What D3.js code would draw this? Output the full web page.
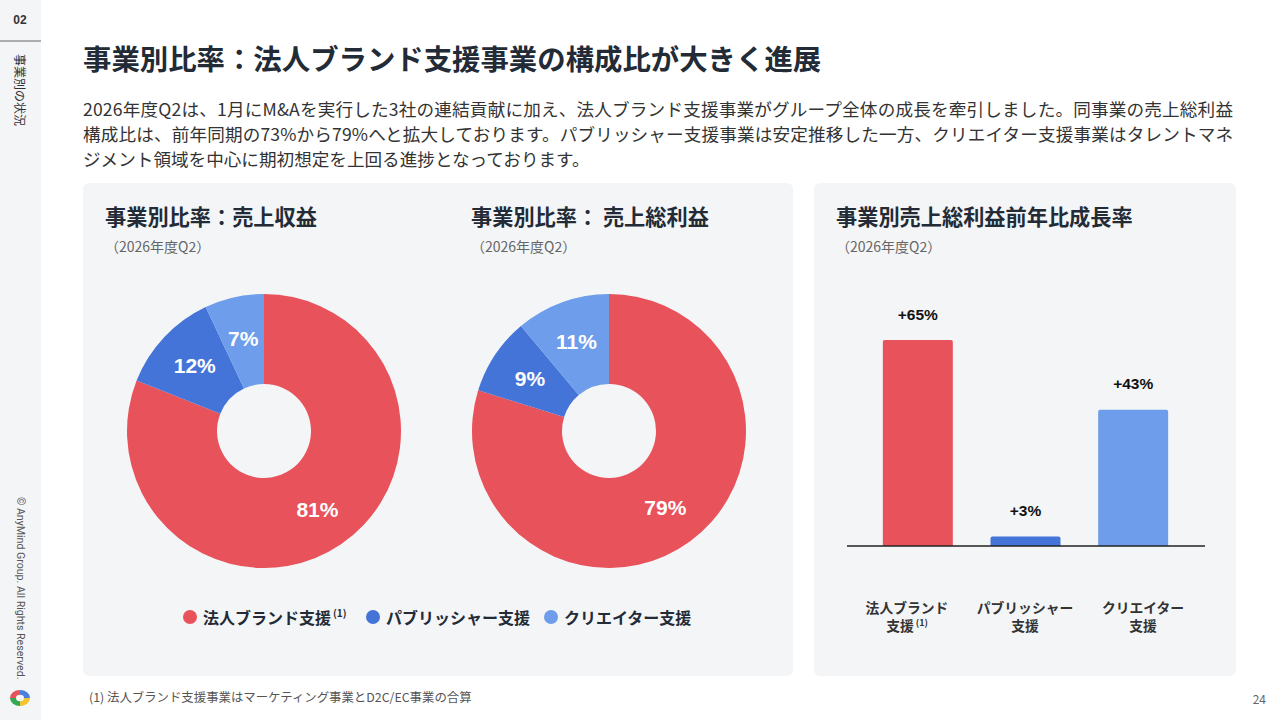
<!DOCTYPE html>
<html>
<head>
<meta charset="utf-8">
<script src="https://cdn.jsdelivr.net/npm/d3@7"></script>
<style>
  html, body { margin: 0; padding: 0; background: #fff; }
  svg { display: block; }
  .jp { font-family: "Noto Sans CJK JP", "Noto Sans", sans-serif; }
  .num { font-family: "Liberation Sans", Arial, sans-serif; font-weight: bold; }
</style>
</head>
<body>
<svg id="slide" width="1280" height="720"></svg>
<script>
// data
var segments = ["法人ブランド支援", "パブリッシャー支援", "クリエイター支援"];
var revenueShare = [81, 12, 7];
var grossProfitShare = [79, 9, 11];
var growthRate = [65, 3, 43];
var barLabels = [["法人ブランド", "支援"], ["パブリッシャー", "支援"], ["クリエイター", "支援"]];
var colors = ["#e8525b", "#4474d8", "#6d9deb"];

var titleText = "事業別比率：法人ブランド支援事業の構成比が大きく進展";
var bodyLines = [
    "2026年度Q2は、1月にM&Aを実行した3社の連結貢献に加え、法人ブランド支援事業がグループ全体の成長を牽引しました。同事業の売上総利益",
    "構成比は、前年同期の73%から79%へと拡大しております。パブリッシャー支援事業は安定推移した一方、クリエイター支援事業はタレントマネ",
    "ジメント領域を中心に期初想定を上回る進捗となっております。"
];

var svg = d3.select("#slide");
var panelBg = "#f4f5f7";
var dark = "#222b36";

// sidebar
svg.append("rect").attr("x", 0).attr("y", 0).attr("width", 41).attr("height", 720).attr("fill", panelBg);
svg.append("text").attr("class", "num").attr("x", 20).attr("y", 20)
    .attr("text-anchor", "middle").attr("dominant-baseline", "central")
    .attr("font-size", 12).attr("fill", "#333").text("02");
svg.append("line").attr("x1", 0).attr("x2", 41).attr("y1", 41).attr("y2", 41)
    .attr("stroke", "#666").attr("stroke-width", 1);
svg.append("text").attr("class", "jp")
    .attr("transform", "translate(20,54) rotate(90)")
    .attr("dominant-baseline", "central").attr("font-size", 12).attr("fill", "#333")
    .text("事業別の状況");
svg.append("text")
    .attr("transform", "translate(20,497) rotate(90)")
    .attr("font-family", "Roboto, 'Liberation Sans', sans-serif")
    .attr("dominant-baseline", "central").attr("font-size", 10.6).attr("fill", "#555")
    .text("© AnyMind Group. All Rights Reserved.");

// logo
var logoArc = d3.arc().innerRadius(4).outerRadius(10);
var logoColors = ["#e8525b", "#4a7fe0", "#f4c430", "#34a853"];
var logo = svg.append("g").attr("transform", "translate(20,698) scale(1,0.8)");
logo.selectAll("path")
    .data(d3.pie().sort(null).startAngle(-Math.PI / 2)([1, 1, 1, 1]))
    .enter().append("path")
    .attr("d", logoArc)
    .attr("fill", function(d, i) { return logoColors[i]; });

// heading
svg.append("text").attr("class", "jp").attr("x", 83).attr("y", 57)
    .attr("dominant-baseline", "central").attr("font-size", 28.4).attr("font-weight", "bold")
    .attr("fill", dark).text(titleText);

svg.selectAll(".body")
    .data(bodyLines)
    .enter().append("text")
    .attr("class", "jp body")
    .attr("x", 83)
    .attr("y", function(d, i) { return 108 + i * 25; })
    .attr("dominant-baseline", "central")
    .attr("font-size", 17.6)
    .attr("fill", "#333")
    .attr("textLength", function(d, i) { return i < 2 ? 1150 : null; })
    .attr("lengthAdjust", "spacing")
    .text(function(d) { return d; });

// panels
svg.append("rect").attr("x", 83).attr("y", 183).attr("width", 710).attr("height", 493)
    .attr("rx", 6).attr("fill", panelBg);
svg.append("rect").attr("x", 814).attr("y", 183).attr("width", 422).attr("height", 493)
    .attr("rx", 6).attr("fill", panelBg);

function panelTitle(x, title) {
    svg.append("text").attr("class", "jp").attr("x", x).attr("y", 215)
        .attr("dominant-baseline", "central").attr("font-size", 21.2).attr("font-weight", "bold")
        .attr("fill", dark).text(title);
    svg.append("text").attr("class", "jp").attr("x", x).attr("y", 246)
        .attr("dominant-baseline", "central").attr("font-size", 14)
        .attr("fill", "#666").text("（2026年度Q2）");
}
panelTitle(105, "事業別比率：売上収益");
panelTitle(471, "事業別比率： 売上総利益");
panelTitle(836, "事業別売上総利益前年比成長率");

// donuts
var pie = d3.pie().sort(null);
var arc = d3.arc().innerRadius(47).outerRadius(137);
var labelArc = d3.arc().innerRadius(95).outerRadius(95);

function drawDonut(cx, cy, values) {
    var g = svg.append("g").attr("transform", "translate(" + cx + "," + cy + ")");
    var arcs = pie(values);
    g.selectAll("path")
        .data(arcs)
        .enter().append("path")
        .attr("d", arc)
        .attr("fill", function(d, i) { return colors[i]; });
    g.selectAll("text")
        .data(arcs)
        .enter().append("text")
        .attr("class", "num")
        .attr("transform", function(d) { return "translate(" + labelArc.centroid(d) + ")"; })
        .attr("text-anchor", "middle")
        .attr("dominant-baseline", "central")
        .attr("font-size", 21)
        .attr("fill", "#fff")
        .text(function(d) { return d.data + "%"; });
}
drawDonut(264, 431, revenueShare);
drawDonut(609, 431, grossProfitShare);

// legend
var legendX = [190, 373, 551];
var legend = svg.selectAll(".legend")
    .data(segments)
    .enter().append("g")
    .attr("class", "legend")
    .attr("transform", function(d, i) { return "translate(" + legendX[i] + ",617)"; });
legend.append("circle").attr("r", 7).attr("fill", function(d, i) { return colors[i]; });
var legendText = legend.append("text")
    .attr("class", "jp")
    .attr("x", 13)
    .attr("dominant-baseline", "central")
    .attr("font-size", 16)
    .attr("font-weight", "bold")
    .attr("fill", dark)
    .text(function(d) { return d; });
legendText.filter(function(d, i) { return i === 0; })
    .append("tspan").attr("font-size", 10).attr("dx", 2).attr("dy", -5).text("(1)");

// bar chart
var baseY = 546;
var x = d3.scaleBand()
    .domain(segments)
    .range([864, 1187])
    .paddingInner(0.35)
    .paddingOuter(0.175);
var xLabel = d3.scaleBand()
    .domain(segments)
    .range([848, 1202]);
var y = d3.scaleLinear()
    .domain([0, 65])
    .range([baseY, 340]);

var barG = svg.append("g");
barG.selectAll(".bar")
    .data(segments)
    .enter().append("path")
    .attr("class", "bar")
    .attr("fill", function(d, i) { return colors[i]; })
    .attr("d", function(d, i) {
        var x0 = x(d), w = x.bandwidth(), top = y(growthRate[i]), r = 2;
        return "M" + x0 + "," + baseY +
            "V" + (top + r) + "Q" + x0 + "," + top + " " + (x0 + r) + "," + top +
            "H" + (x0 + w - r) + "Q" + (x0 + w) + "," + top + " " + (x0 + w) + "," + (top + r) +
            "V" + baseY + "Z";
    });

barG.selectAll(".val")
    .data(segments)
    .enter().append("text")
    .attr("class", "num val")
    .attr("x", function(d) { return x(d) + x.bandwidth() / 2; })
    .attr("y", function(d, i) { return y(growthRate[i]) - 26; })
    .attr("text-anchor", "middle")
    .attr("dominant-baseline", "central")
    .attr("font-size", 15.5)
    .attr("fill", "#111")
    .text(function(d, i) { return "+" + growthRate[i] + "%"; });

barG.append("line")
    .attr("x1", 847).attr("x2", 1205)
    .attr("y1", baseY).attr("y2", baseY)
    .attr("stroke", "#222").attr("stroke-width", 1.5);

var catLabels = barG.selectAll(".cat")
    .data(segments)
    .enter().append("text")
    .attr("class", "jp cat")
    .attr("text-anchor", "middle")
    .attr("font-size", 13.8)
    .attr("font-weight", "bold")
    .attr("fill", "#333");
catLabels.each(function(d, i) {
    var t = d3.select(this);
    var cx = xLabel(d) + xLabel.bandwidth() / 2;
    t.append("tspan").attr("x", cx).attr("y", 613).text(barLabels[i][0]);
    t.append("tspan").attr("x", cx).attr("y", 631).text(barLabels[i][1]);
    if (i === 0) {
        t.append("tspan").attr("font-size", 9).attr("dx", 2).attr("dy", -5).text("(1)");
    }
});

// footnote and page number
svg.append("text").attr("class", "jp").attr("x", 89).attr("y", 697)
    .attr("dominant-baseline", "central").attr("font-size", 12.4).attr("fill", "#555")
    .text("(1) 法人ブランド支援事業はマーケティング事業とD2C/EC事業の合算");
svg.append("text").attr("class", "jp").attr("x", 1266).attr("y", 698)
    .attr("text-anchor", "end").attr("dominant-baseline", "central")
    .attr("font-size", 12).attr("fill", "#666").text("24");
</script>
</body>
</html>
